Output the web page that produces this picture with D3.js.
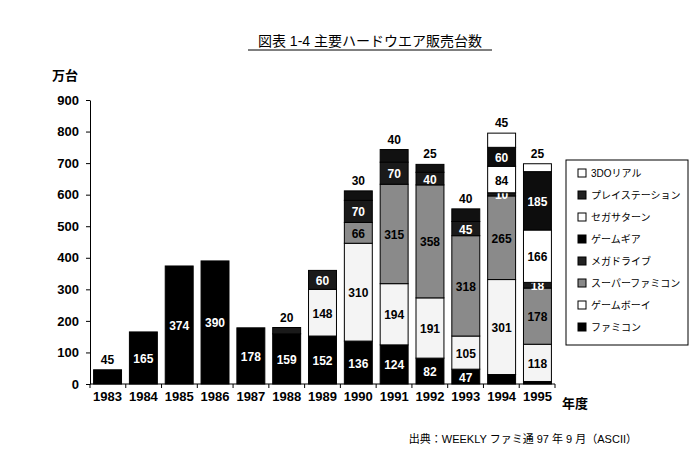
<!DOCTYPE html><html><head><meta charset="utf-8">
<script src="https://cdn.jsdelivr.net/npm/d3@7"></script>
<style>body{margin:0;background:#fff}text{font-family:"Liberation Sans","Noto Sans CJK JP",sans-serif}</style></head><body>
<svg id="c" width="700" height="460"></svg>
<script>
const years=["1983","1984","1985","1986","1987","1988","1989","1990","1991","1992","1993","1994","1995"];
const seriesNames=["ファミコン","ゲームボーイ","スーパーファミコン","メガドライブ","ゲームギア","セガサターン","プレイステーション","3DOリアル"];
const famicom=[45,165,374,390,178,159,152,136,124,82,47,30,8];
const gameboy=[0,0,0,0,0,0,148,310,194,191,105,301,118];
const superfami=[0,0,0,0,0,0,0,66,315,358,318,265,178];
const megadrive=[0,0,0,0,0,20,60,70,70,40,45,10,18];
const gamegear=[0,0,0,0,0,0,0,30,40,25,40,0,0];
const saturn=[0,0,0,0,0,0,0,0,0,0,0,84,166];
const playstation=[0,0,0,0,0,0,0,0,0,0,0,60,185];
const threeDO=[0,0,0,0,0,0,0,0,0,0,0,45,25];
const yTicks=[0,100,200,300,400,500,600,700,800,900];
const seriesData=[famicom,gameboy,superfami,megadrive,gamegear,saturn,playstation,threeDO];
const fills=["#000","#f4f4f4","#8a8a8a","#1a1a1a","#111","#fff","#0d0d0d","#fff"];
const legendFills=["#fff","#222","#fff","#000","#222","#888","#fff","#000"];
const svg=d3.select("#c");
const x=d3.scaleBand().domain(years).range([90,555]).paddingInner(0.22).paddingOuter(0.1);
const y=d3.scaleLinear().domain([0,900]).range([384,100]);
svg.append("text").attr("x",370).attr("y",46).attr("text-anchor","middle").attr("font-size",14).text("図表 1-4 主要ハードウエア販売台数");
svg.append("line").attr("x1",248).attr("x2",492).attr("y1",50).attr("y2",50).attr("stroke","#000");
svg.append("text").attr("x",52).attr("y",80).attr("font-size",13).attr("font-weight","bold").text("万台");
const ya=svg.append("g").attr("transform","translate(90,0)").call(d3.axisLeft(y).tickValues(yTicks).tickSize(4).tickSizeOuter(0));
ya.selectAll("text").attr("font-size",13).attr("font-weight","bold").attr("fill","#000").attr("dx",-4);
const xa=svg.append("g").attr("transform","translate(0,384)").call(d3.axisBottom(x).tickSize(0).tickSizeOuter(0));
xa.selectAll("text").attr("font-size",13).attr("font-weight","bold").attr("fill","#000").attr("dy",14);
xa.select(".domain").attr("d","M90,0H555");
svg.append("g").selectAll("line").data(d3.range(years.length+1)).join("line")
 .attr("x1",i=>90+i*(465/13)).attr("x2",i=>90+i*(465/13)).attr("y1",384).attr("y2",388).attr("stroke","#000");
svg.append("text").attr("x",562).attr("y",408).attr("font-size",13).attr("font-weight","bold").text("年度");
years.forEach((yr,i)=>{
  let base=0;
  const top=seriesData.reduce((m,s,k)=>s[i]>0?k:m,0);
  seriesData.forEach((s,k)=>{
    const v=s[i]; if(!v) return;
    svg.append("rect").attr("x",x(yr)).attr("width",x.bandwidth()).attr("y",y(base+v)).attr("height",y(base)-y(base+v))
      .attr("fill",fills[k]).attr("stroke","#000").attr("stroke-width",1);
    const dark=fills[k]<"#5";
    if(!(k===0&&v<=30)){
      const above=(k===top&&v<=45);
      svg.append("text").attr("x",x(yr)+x.bandwidth()/2)
        .attr("y",above?y(base+v)-6:(y(base)+y(base+v))/2+5)
        .attr("text-anchor","middle").attr("font-size",12).attr("font-weight","bold")
        .attr("fill",above?"#000":(dark?"#fff":"#000")).text(v);
    }
    base+=v;
  });
});
const lg=svg.append("g");
lg.append("rect").attr("x",566).attr("y",160).attr("width",122).attr("height",185).attr("fill","#fff").attr("stroke","#000");
seriesNames.slice().reverse().forEach((n,i)=>{
  const yy=174+i*22;
  lg.append("rect").attr("x",578).attr("y",yy-5).attr("width",8).attr("height",8).attr("fill",legendFills[i]).attr("stroke","#000");
  lg.append("text").attr("x",591).attr("y",yy+3).attr("font-size",10).text(n);
});
svg.append("text").attr("x",637).attr("y",443).attr("text-anchor","end").attr("font-size",11).text("出典：WEEKLY ファミ通 97 年 9 月（ASCII）");
</script></body></html>
